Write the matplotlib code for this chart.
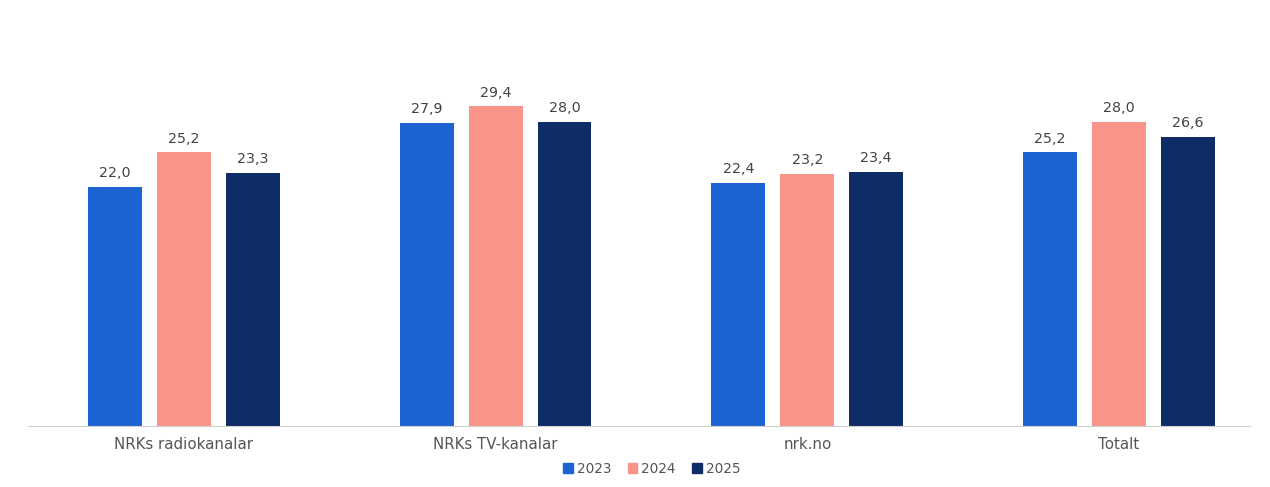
import numpy as np
import matplotlib.pyplot as plt
from matplotlib.patches import Patch

categories = ["NRKs radiokanalar", "NRKs TV-kanalar", "nrk.no", "Totalt"]
years = ["2023", "2024", "2025"]
values_2023 = [22.0, 27.9, 22.4, 25.2]
values_2024 = [25.2, 29.4, 23.2, 28.0]
values_2025 = [23.3, 28.0, 23.4, 26.6]
colors = ["#1c64d1", "#f99489", "#0e2d66"]

W, H = 1270, 487
fig = plt.figure(figsize=(W / 100, H / 100), dpi=100)
ax = fig.add_axes([28 / W, 1 - 426 / H, (1250 - 28) / W, 400 / H])

x = np.arange(len(categories))
width = 0.173
step = 0.221
for i, (vals, c) in enumerate(zip([values_2023, values_2024, values_2025], colors)):
    pos = x + (i - 1) * step
    ax.bar(pos, vals, width, color=c, zorder=2)
    for px, v in zip(pos, vals):
        ax.text(px, v + 0.6, f"{v:.1f}".replace(".", ","), ha="center", va="bottom",
                fontsize=10.3, color="#444444")

ax.set_xlim(-0.5, 3.42)
ax.set_ylim(0, 36.8)
ax.set_yticks([])
ax.set_xticks(x)
ax.set_xticklabels(categories, fontsize=10.8, color="#555555")
ax.tick_params(axis="x", length=0, pad=8)
for s in ["top", "right", "left"]:
    ax.spines[s].set_visible(False)
ax.spines["bottom"].set_color("#d0d0d0")
ax.spines["bottom"].set_linewidth(0.8)

handles = [Patch(color=c, label=y) for c, y in zip(colors, years)]
fig.legend(handles=handles, loc="center", bbox_to_anchor=(652 / W, 1 - 469 / H), ncol=3,
           frameon=False, fontsize=9.8, handlelength=0.7, handleheight=0.7,
           handletextpad=0.3, columnspacing=1.2, labelcolor="#555555")

fig.savefig("out.png", dpi=100)
